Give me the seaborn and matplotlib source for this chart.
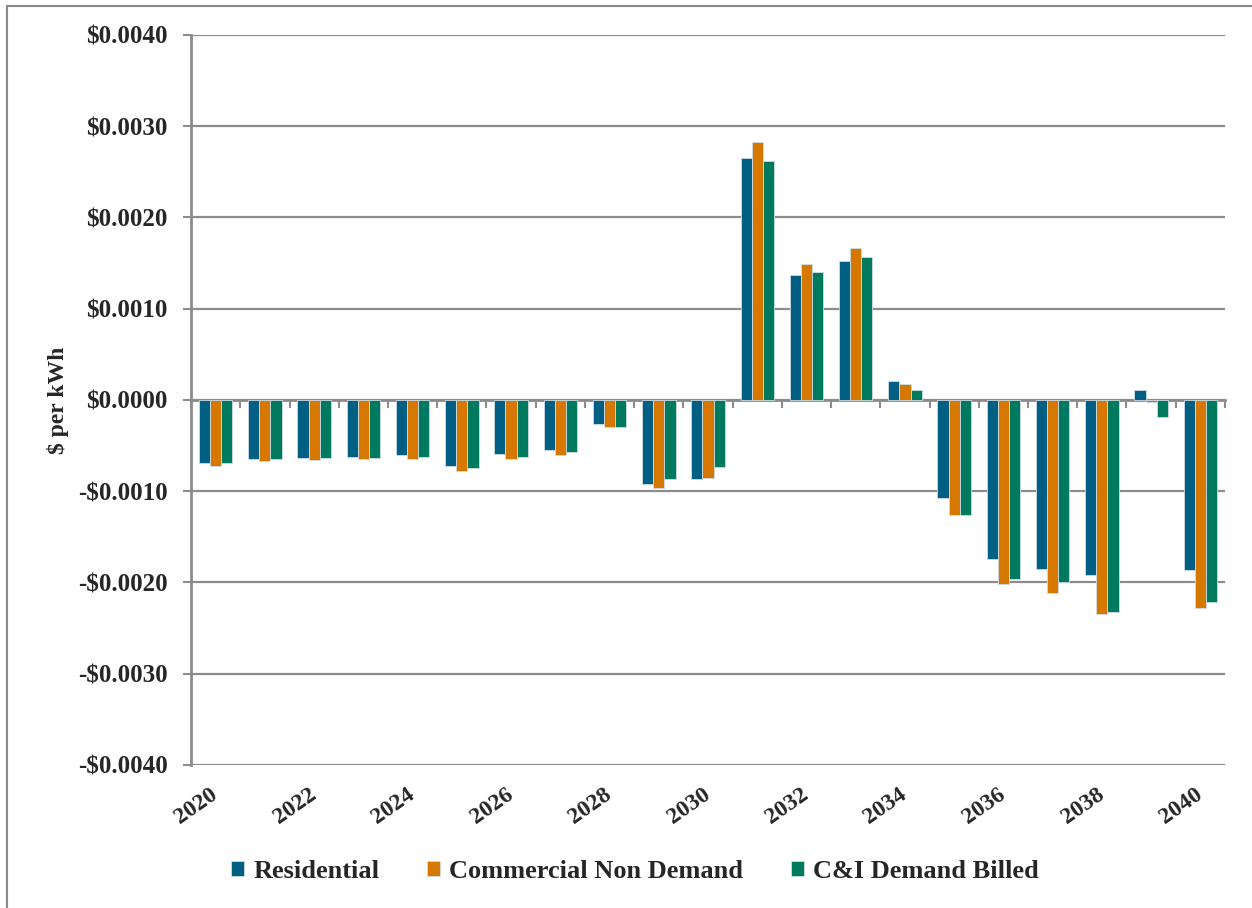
import numpy as np
import pandas as pd
import matplotlib
matplotlib.use("Agg")
import matplotlib.pyplot as plt
from matplotlib.ticker import FuncFormatter, FixedLocator
from matplotlib.lines import Line2D
import seaborn as sns

# Annual rate impact by customer class ($ per kWh)
years = list(range(2020, 2041))
residential = [-0.00069, -0.00065, -0.00064, -0.00062, -0.00060, -0.00072, -0.00059,
               -0.00055, -0.00026, -0.00092, -0.00087, 0.00265, 0.00137, 0.00152,
               0.00021, -0.00107, -0.00174, -0.00185, -0.00192, 0.00011, -0.00186]
commercial = [-0.00072, -0.00067, -0.00066, -0.00065, -0.00065, -0.00078, -0.00065,
              -0.00060, -0.00030, -0.00096, -0.00086, 0.00283, 0.00149, 0.00167,
              0.00018, -0.00126, -0.00202, -0.00212, -0.00234, -0.00002, -0.00228]
ci_demand = [-0.00069, -0.00065, -0.00064, -0.00064, -0.00062, -0.00075, -0.00062,
             -0.00057, -0.00030, -0.00087, -0.00073, 0.00262, 0.00140, 0.00157,
             0.00011, -0.00126, -0.00196, -0.00200, -0.00232, -0.00019, -0.00221]
series_names = ["Residential", "Commercial Non Demand", "C&I Demand Billed"]
colors = ["#005F83", "#D67800", "#007A5E"]
y_ticks = [-0.004, -0.003, -0.002, -0.001, 0.0, 0.001, 0.002, 0.003, 0.004]

df = pd.DataFrame({
    "year": [str(y) for y in years] * 3,
    "segment": np.repeat(series_names, len(years)),
    "value": residential + commercial + ci_demand,
})

sns.set_theme(style="white")
plt.rcParams["font.family"] = ["Liberation Serif", "DejaVu Serif"]
plt.rcParams["font.weight"] = "bold"

fig = plt.figure(figsize=(12.52, 9.08), dpi=100)
ax = fig.add_axes([0.1526, 0.1575, 0.8258, 0.804])

sns.barplot(data=df, x="year", y="value", hue="segment", hue_order=series_names,
            order=[str(y) for y in years], palette=colors, width=0.68,
            edgecolor="#cfdde4", linewidth=0.6, saturation=1, ax=ax)

grid_col = "#8c8c8c"
ax.set_ylim(-0.004, 0.004)
ax.set_xlim(-0.5, len(years) - 0.5)
ax.set_yticks(y_ticks)
ax.yaxis.set_major_formatter(FuncFormatter(
    lambda v, p: ("-$" if v < -1e-12 else "$") + f"{abs(v):.4f}"))
ax.yaxis.grid(True, color=grid_col, linewidth=1.6)
ax.set_axisbelow(True)
for s in ["top", "right", "bottom"]:
    ax.spines[s].set_visible(False)
ax.spines["left"].set_color(grid_col)
ax.spines["left"].set_linewidth(2)
ax.tick_params(axis="y", left=True, direction="out", length=6, width=1.5,
               color=grid_col, pad=11, labelsize=18)
for lab in ax.get_yticklabels():
    lab.set_fontweight("bold")

# x labels every other year, under the bar groups
label_pos = list(range(0, len(years), 2))
ax.set_xticks(label_pos)
ax.set_xticklabels([str(years[i]) for i in label_pos], rotation=35,
                   ha="right", va="center", rotation_mode="anchor",
                   fontsize=17, fontweight="bold")
ax.tick_params(axis="x", bottom=False, length=0, pad=20)
ax.set_xlabel("")
ax.set_ylabel("$ per kWh", fontsize=17, fontweight="bold", labelpad=6)

# zero axis line with category dividers
zero_ax = ax.secondary_xaxis(0.5)
for sp in zero_ax.spines.values():
    sp.set_color(grid_col)
    sp.set_linewidth(2)
zero_ax.xaxis.set_major_locator(FixedLocator(np.arange(-0.5, len(years), 1.0)))
zero_ax.set_xticklabels([])
zero_ax.tick_params(axis="x", direction="in", length=6, width=1.5,
                    color=grid_col, labeltop=False, labelbottom=False)

handles, labels = ax.get_legend_handles_labels()
if ax.get_legend() is not None:
    ax.get_legend().remove()
fig.legend(handles, labels, loc="center", bbox_to_anchor=(0.507, 0.040), ncol=3,
           frameon=False, handlelength=0.5, handleheight=0.5, handletextpad=0.35,
           columnspacing=1.8, prop={"size": 19, "weight": "bold"})

# outer frame edges
fig.add_artist(Line2D([0.0056, 1.0], [0.9934, 0.9934], transform=fig.transFigure,
                      color="#8a8a8a", linewidth=1.5))
fig.add_artist(Line2D([0.0056, 0.0056], [0.0, 0.9934], transform=fig.transFigure,
                      color="#8a8a8a", linewidth=1.5))

fig.savefig("out.png", dpi=100, facecolor="white")
